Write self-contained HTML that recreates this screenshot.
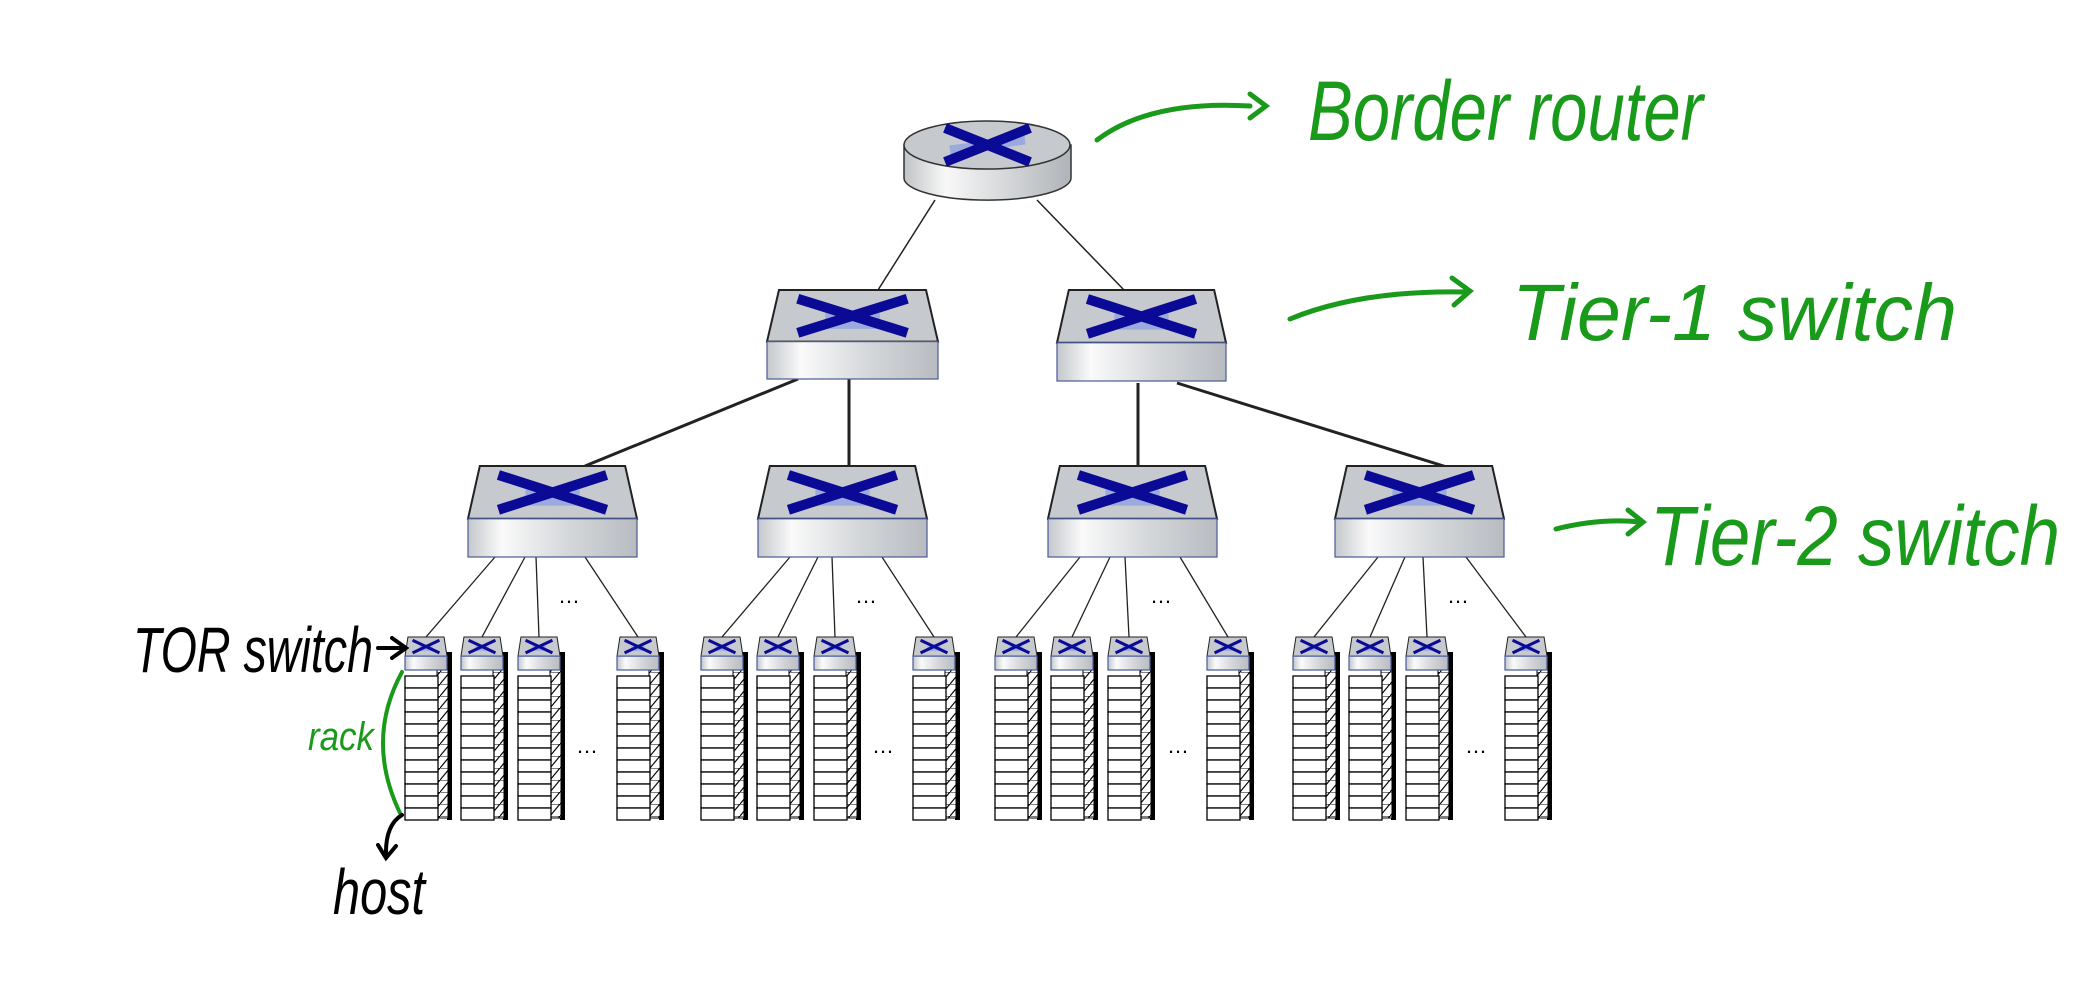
<!DOCTYPE html><html><head><style>body{margin:0;background:#fff}svg{display:block}
.g{font-family:"Liberation Sans Narrow","Liberation Sans",sans-serif;font-style:italic;fill:#1a9a1a}
.k{font-family:"Liberation Sans Narrow","Liberation Sans",sans-serif;font-style:italic;fill:#000}</style></head><body>
<svg id="s" width="2085" height="1000" xmlns="http://www.w3.org/2000/svg">
<defs>
<linearGradient id="fr" x1="0" x2="1"><stop offset="0" stop-color="#c4c8cc"/><stop offset=".2" stop-color="#fafafa"/><stop offset=".6" stop-color="#d4d7da"/><stop offset="1" stop-color="#b8bcc0"/></linearGradient>
<linearGradient id="rt" x1="0" x2="1"><stop offset="0" stop-color="#c0c3c6"/><stop offset=".25" stop-color="#f8f8f8"/><stop offset="1" stop-color="#b0b4b8"/></linearGradient>
<pattern id="hat" width="10" height="12" patternUnits="userSpaceOnUse"><rect width="10" height="12" fill="#fff"/><path d="M0 12L10 0" stroke="#000" stroke-width="1.2"/><path d="M0 0H10" stroke="#000"/></pattern>
</defs>
<g id="lines" stroke="#222" fill="none">
<path d="M935 200L878 290M1037 200L1124 290" stroke-width="1.5"/>
<path d="M798 379L585 466M849 379L849 466M1138 383L1138 466M1177 383L1450 468" stroke-width="3"/>
</g>
<g>
<path d="M904 145V178A83 22 0 0 0 1071 178V145Z" fill="url(#rt)" stroke="#333" stroke-width="1.5"/>
<ellipse cx="987" cy="145" rx="83" ry="24" fill="#c6c9cd" stroke="#333" stroke-width="1.5"/>
<path d="M950 150L1025 140" stroke="#9aaade" stroke-width="9"/>
<path d="M945 128L1030 162M1030 128L945 162" stroke="#0a0a96" stroke-width="10" fill="none"/>
</g>
<g id="sw"></g>
<g fill="#000" font-family="Liberation Sans" font-size="22">
<text x="558" y="603">…</text><text x="855" y="603">…</text><text x="1150" y="603">…</text><text x="1447" y="603">…</text>
<text x="576" y="753">…</text><text x="872" y="753">…</text><text x="1167" y="753">…</text><text x="1465" y="753">…</text>
</g>
<g fill="none" stroke-linecap="round">
<path d="M1097 140Q1150 100 1250 106" stroke="#1a9a1a" stroke-width="5"/><path d="M1250 94L1266 106L1250 118" stroke="#1a9a1a" stroke-width="5"/>
<path d="M1290 319Q1360 290 1465 292" stroke="#1a9a1a" stroke-width="5"/><path d="M1452 278L1470 291L1454 305" stroke="#1a9a1a" stroke-width="5"/>
<path d="M1556 529Q1600 518 1640 522" stroke="#1a9a1a" stroke-width="5"/><path d="M1628 510L1643 522L1628 534" stroke="#1a9a1a" stroke-width="5"/>
<path d="M402 672Q365 740 400 813" stroke="#1a9a1a" stroke-width="4"/>
<path d="M378 648L404 648M392 638L406 648L392 658" stroke="#000" stroke-width="4"/>
<path d="M402 815Q385 825 386 856M378 845L386 858L396 846" stroke="#000" stroke-width="4"/>
</g>
<text class="g" x="1308" y="140" font-size="84" textLength="395" lengthAdjust="spacingAndGlyphs">Border router</text>
<text class="g" x="1512" y="340" font-size="80" textLength="445" lengthAdjust="spacingAndGlyphs">Tier-1 switch</text>
<text class="g" x="1650" y="565" font-size="84" textLength="410" lengthAdjust="spacingAndGlyphs">Tier-2 switch</text>
<text class="k" x="133" y="672" font-size="64" textLength="240" lengthAdjust="spacingAndGlyphs">TOR switch</text>
<text class="k" x="333" y="914" font-size="64" textLength="92" lengthAdjust="spacingAndGlyphs">host</text>
<text class="g" x="308" y="750" font-size="40" textLength="66" lengthAdjust="spacingAndGlyphs">rack</text>
</svg>
<script>
var g=document.getElementById('sw'),L=document.getElementById('lines'),h='';
function sw(x,y,w,H,sm){var t=H*0.58,i=w*0.07,s=sm?3:10,cx=x+w/2,cy=y+t/2;
 var o='<path d="M'+(x+i)+' '+y+'H'+(x+w-i)+'L'+(x+w)+' '+(y+t)+'H'+x+'Z" fill="#c6c9cd" stroke="#222" stroke-width="'+(sm?1:2)+'"/>';
 o+='<rect x="'+x+'" y="'+(y+t)+'" width="'+w+'" height="'+(H-t)+'" fill="url(#fr)" stroke="#4a5a9a" stroke-width="1.2"/>';
 var a=w*0.32,b=t*0.33;
 o+='<path d="M'+(cx-a*0.5)+' '+(cy+b*0.3)+'L'+(cx+a*0.5)+' '+(cy+b*0.3)+'" stroke="#9aaade" stroke-width="'+(s*1.6)+'"/>';
 o+='<path d="M'+(cx-a)+' '+(cy-b)+'L'+(cx+a)+' '+(cy+b)+'M'+(cx+a)+' '+(cy-b)+'L'+(cx-a)+' '+(cy+b)+'" stroke="#0a0a96" stroke-width="'+s+'"/>';
 return o;}
h+=sw(767,290,171,89)+sw(1057,290,169,91);
[468,758,1048,1335].forEach(function(x){h+=sw(x,466,169,91)});
var groups=[405,701,995,1293],offs=[0,56,113,212],tl=[[495,525,536,585],[790,818,832,882],[1080,1110,1125,1180],[1378,1405,1423,1466]],lh='';
groups.forEach(function(gx,gi){offs.forEach(function(o,k){var x=gx+o;
 h+='<rect x="'+(x+42)+'" y="652" width="5" height="168" fill="#000"/>';
 h+='<rect x="'+(x+32)+'" y="668" width="11" height="150" fill="url(#hat)" stroke="#000"/>';
 for(var r=0;r<12;r++)h+='<rect x="'+x+'" y="'+(676+r*12)+'" width="33" height="12" fill="#fff" stroke="#000" stroke-width="1.3"/>';
 h+=sw(x,637,42,33,1);
 lh+='<path d="M'+tl[gi][k]+' 557L'+(x+21)+' 637" stroke="#222" stroke-width="1.3"/>';
});});
g.innerHTML=h;L.insertAdjacentHTML('beforeend',lh);
</script>
</body></html>
